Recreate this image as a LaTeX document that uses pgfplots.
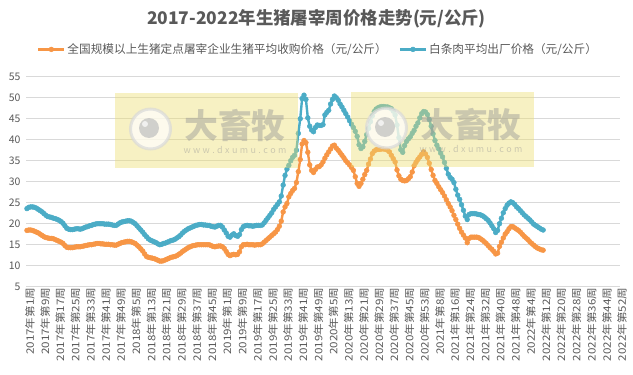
\documentclass[border=0pt]{standalone}
\usepackage{pgfplots}
\pgfplotsset{compat=1.18}
\usepackage{pgfplotstable}
\usepackage{fontspec}
\setmainfont{Noto Sans CJK SC}
\newfontfamily\tickfont{Noto Sans CJK SC}[FakeStretch=1.13]
\definecolor{cOr}{RGB}{247,150,70}
\definecolor{cTe}{RGB}{75,172,198}
\definecolor{cGrid}{RGB}{217,217,217}
\definecolor{cTxt}{RGB}{89,89,89}
\definecolor{cWm}{RGB}{237,222,111}
\definecolor{cWmT}{RGB}{150,150,150}

\pgfplotstableread{
i a b
0 18.4 23.6
1 18.5 23.9
2 18.5 24.0
3 18.4 24.0
4 18.2 23.9
5 18.0 23.7
6 17.8 23.4
7 17.5 23.1
8 17.2 22.8
9 16.9 22.4
10 16.7 22.0
11 16.6 21.7
12 16.5 21.6
13 16.5 21.5
14 16.4 21.3
15 16.2 21.2
16 16.0 21.0
17 15.8 20.8
18 15.6 20.5
19 15.3 20.1
20 14.8 19.5
21 14.4 18.9
22 14.3 18.7
23 14.3 18.6
24 14.3 18.6
25 14.4 18.7
26 14.5 18.8
27 14.5 18.8
28 14.5 18.7
29 14.6 18.8
30 14.7 19.0
31 14.8 19.2
32 14.9 19.3
33 15.0 19.5
34 15.0 19.6
35 15.1 19.8
36 15.2 19.9
37 15.3 20.0
38 15.3 20.0
39 15.2 20.0
40 15.2 20.0
41 15.1 19.9
42 15.1 19.9
43 15.1 19.9
44 15.0 19.8
45 15.0 19.7
46 14.9 19.6
47 14.9 19.6
48 15.1 19.9
49 15.3 20.2
50 15.5 20.4
51 15.6 20.5
52 15.7 20.6
53 15.8 20.7
54 15.8 20.7
55 15.7 20.6
56 15.5 20.3
57 15.3 20.0
58 14.9 19.5
59 14.5 19.0
60 14.0 18.5
61 13.5 18.0
62 12.8 17.4
63 12.2 16.9
64 12.0 16.4
65 11.9 16.1
66 11.8 15.9
67 11.7 15.7
68 11.5 15.5
69 11.3 15.2
70 11.1 15.0
71 11.1 15.1
72 11.2 15.3
73 11.4 15.4
74 11.6 15.6
75 11.8 15.8
76 12.0 16.0
77 12.1 16.1
78 12.2 16.3
79 12.4 16.6
80 12.7 16.9
81 13.0 17.3
82 13.4 17.8
83 13.7 18.2
84 14.0 18.5
85 14.3 18.8
86 14.5 19.0
87 14.7 19.2
88 14.8 19.4
89 14.9 19.6
90 15.0 19.7
91 15.0 19.8
92 15.0 19.8
93 15.0 19.7
94 15.0 19.7
95 15.0 19.6
96 15.0 19.6
97 14.8 19.4
98 14.6 19.3
99 14.5 19.2
100 14.6 19.4
101 14.7 19.6
102 14.7 19.6
103 14.5 19.2
104 14.1 18.5
105 13.4 17.8
106 12.7 17.0
107 12.4 16.8
108 12.6 17.3
109 12.7 17.6
110 12.6 17.2
111 12.7 17.0
112 13.3 17.4
113 14.5 18.6
114 15.0 19.3
115 15.0 19.5
116 15.1 19.6
117 15.0 19.5
118 15.0 19.5
119 15.0 19.4
120 14.9 19.5
121 15.0 19.6
122 15.0 19.6
123 15.0 19.6
124 15.2 19.7
125 15.6 20.2
126 16.0 20.8
127 16.4 21.4
128 16.8 22.0
129 17.2 22.6
130 17.6 23.4
131 18.0 24.0
132 18.6 24.6
133 19.4 25.2
134 20.6 26.6
135 22.8 29.2
136 24.0 31.5
137 24.8 33.0
138 26.4 33.9
139 27.2 35.0
140 27.9 35.8
141 28.4 36.3
142 29.8 37.5
143 32.4 41.5
144 35.3 45.0
145 39.0 49.8
146 39.8 50.6
147 39.3 49.6
148 37.0 45.2
149 34.0 43.2
150 32.7 42.3
151 32.2 41.9
152 32.9 42.9
153 33.5 43.5
154 33.6 43.4
155 34.0 43.4
156 34.7 43.6
157 35.6 45.9
158 36.4 46.5
159 37.1 47.0
160 37.8 48.5
161 38.5 49.6
162 38.7 50.4
163 38.0 50.0
164 37.5 49.4
165 36.9 48.5
166 36.3 47.8
167 35.7 47.0
168 35.0 46.2
169 34.5 45.4
170 34.0 44.5
171 33.4 43.7
172 32.7 42.9
173 31.2 42.0
174 29.6 40.8
175 28.9 38.8
176 29.6 37.9
177 30.6 38.3
178 31.7 39.6
179 32.7 41.2
180 34.2 42.7
181 35.4 44.3
182 36.7 45.7
183 37.3 46.7
184 37.6 47.3
185 37.7 47.6
186 37.7 47.8
187 37.8 47.9
188 37.8 47.9
189 37.7 47.8
190 37.5 47.8
191 37.1 47.6
192 36.3 47.4
193 35.5 46.8
194 34.7 45.9
195 32.8 43.5
196 31.4 40.5
197 30.6 37.6
198 30.3 37.0
199 30.2 38.6
200 30.3 39.6
201 30.7 40.2
202 31.2 40.7
203 32.3 41.5
204 33.8 42.2
205 34.6 43.2
206 35.3 44.0
207 35.9 45.2
208 36.5 46.2
209 37.1 46.7
210 36.6 46.6
211 35.8 46.0
212 34.4 44.8
213 32.9 43.2
214 31.5 41.4
215 30.3 39.8
216 29.6 38.7
217 28.8 37.8
218 28.1 36.8
219 27.4 35.9
220 26.6 34.6
221 25.7 33.2
222 24.8 31.8
223 24.0 31.0
224 23.1 30.6
225 22.0 29.8
226 21.0 28.2
227 19.9 26.8
228 18.9 25.8
229 18.0 24.5
230 17.3 23.2
231 16.6 21.8
232 15.5 21.0
233 16.5 22.2
234 16.8 22.4
235 16.8 22.4
236 16.8 22.4
237 16.8 22.3
238 16.7 22.2
239 16.4 22.1
240 16.1 21.9
241 15.7 21.6
242 15.3 21.2
243 14.8 20.8
244 14.3 20.2
245 13.9 19.5
246 13.4 18.8
247 12.8 17.9
248 13.0 18.4
249 14.6 20.0
250 15.6 21.3
251 16.6 22.6
252 17.5 23.6
253 18.1 24.4
254 18.8 24.9
255 19.3 25.2
256 19.3 25.0
257 19.0 24.6
258 18.7 24.0
259 18.4 23.6
260 18.0 23.1
261 17.5 22.6
262 17.0 22.1
263 16.6 21.7
264 16.2 21.3
265 15.7 20.9
266 15.3 20.4
267 14.9 19.9
268 14.5 19.6
269 14.2 19.3
270 14.0 19.0
271 13.8 18.7
272 13.7 18.5
}\datatab

\begin{document}
\begin{tikzpicture}
\useasboundingbox (0,0) rectangle (633bp,-375bp);
\begin{axis}[
  at={(26bp,-286.7bp)}, anchor=south west,
  scale only axis, width=594bp, height=210bp,
  xmin=-0.5, xmax=312.5, ymin=5, ymax=55,
  enlargelimits=false,
  axis line style={draw=none},
  major tick length=0pt,
  ymajorgrids, grid style={cGrid, line width=0.8bp},
  ytick={5,10,...,55},
  xtick={0,8,...,312},
  xticklabels={2017年第1周,2017年第9周,2017年第17周,2017年第25周,2017年第33周,2017年第41周,2017年第49周,2018年第5周,2018年第13周,2018年第21周,2018年第29周,2018年第37周,2018年第45周,2019年第1周,2019年第9周,2019年第17周,2019年第25周,2019年第33周,2019年第41周,2019年第49周,2020年第5周,2020年第13周,2020年第21周,2020年第29周,2020年第37周,2020年第45周,2020年第53周,2021年第8周,2021年第16周,2021年第24周,2021年第32周,2021年第40周,2021年第48周,2022年第4周,2022年第12周,2022年第20周,2022年第28周,2022年第36周,2022年第44周,2022年第52周},
  x tick label style={rotate=90, anchor=east, font=\tickfont\fontsize{10.3}{10.3}\selectfont, text=cTxt, yshift=-3bp, inner sep=1bp},
  y tick label style={font=\fontsize{10.5}{10.5}\selectfont, text=cTxt, xshift=-2bp},
  /pgf/number format/assume math mode=true,
  legend columns=2,
  legend cell align=left,
  legend style={at={(0.4916,1.13)}, anchor=center, draw=none, fill=none,
    font=\fontsize{11.7}{12}\selectfont, text=cTxt,
    /tikz/every even column/.append style={column sep=10bp}},
  legend image code/.code={\draw[mark repeat=2,mark phase=2,#1] plot coordinates {(0bp,0bp) (13bp,0bp) (26bp,0bp)};},
]
\addplot[cOr, line width=2.4bp, mark=*, mark size=2.4bp, mark options={solid, fill=cOr, draw=cOr, line width=0.5bp}] table[x=i, y=a] {\datatab};
\addlegendentry{全国规模以上生猪定点屠宰企业生猪平均收购价格（元/公斤）}
\addplot[cTe, line width=2.4bp, mark=*, mark size=2.4bp, mark options={solid, fill=cTe, draw=cTe, line width=0.5bp}] table[x=i, y=b] {\datatab};
\addlegendentry{白条肉平均出厂价格（元/公斤）}
\end{axis}
\node[font=\bfseries\fontsize{17.5}{17.5}\selectfont, text=cTxt] at (316.5bp,-19bp) {2017-2022年生猪屠宰周价格走势(元/公斤)};
\foreach \dx/\dy in {0/0, 236/1} {
\begin{scope}[shift={(\dx bp,\dy bp)}]
  \fill[cWm, opacity=0.42] (115bp,-93bp) rectangle (298bp,-168bp);
  \draw[line width=3bp, draw=gray!30, fill=white, opacity=0.7] (150.5bp,-129bp) circle (20bp);
  \fill[gray!50, opacity=0.7] (149bp,-128bp) circle (10bp);
  \fill[white, opacity=0.7] (145bp,-124bp) circle (3bp);
  \node[text=cWmT, opacity=0.45, font=\bfseries\fontsize{34}{34}\selectfont, inner sep=0pt] at (235bp,-126bp) {大畜牧};
  \node[text=cWmT, opacity=0.45, font=\fontsize{9}{9}\selectfont, inner sep=0pt] at (235bp,-150bp) {\makebox[103bp][s]{w\hfill w\hfill w\hfill .\hfill d\hfill x\hfill u\hfill m\hfill u\hfill .\hfill c\hfill o\hfill m}};
\end{scope}
}
\end{tikzpicture}
\end{document}
